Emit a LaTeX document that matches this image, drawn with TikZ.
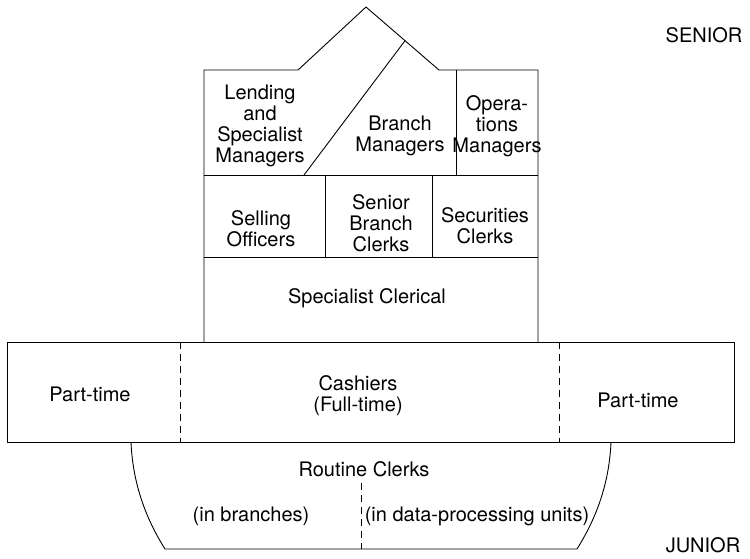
\documentclass[tikz,border=0pt]{standalone}
\usepackage{fontspec}
\setmainfont{TeX Gyre Heros}
\begin{document}
\begin{tikzpicture}[x=1pt,y=-1pt,
  outline/.style={line width=0.9pt, line join=miter},
  divider/.style={line width=0.6pt, dash pattern=on 7pt off 5pt},
  lbl/.style={inner sep=0pt, align=center, font=\fontsize{20}{21}\selectfont}]
\useasboundingbox (0,0) rectangle (750,558);

% senior block with its roof
\draw[outline] (204,342) -- (204,70) -- (298,70) -- (366,7) -- (439,70) -- (538,70) -- (538,342);
\draw[outline] (204,175) -- (538,175);
\draw[outline] (204,257) -- (538,257);
\draw[outline] (456,70) -- (456,175);
\draw[outline] (405,40.7) -- (304,175);
\draw[outline] (325,175) -- (325,257);
\draw[outline] (432,175) -- (432,257);

% cashiers band
\draw[outline] (7,342) rectangle (734,442);
\draw[divider] (180,342) -- (180,442);
\draw[divider] (559,342) -- (559,442);

% routine clerks hull
\draw[outline] (131,442) .. controls (133,490) and (150,525) .. (165,549)
  -- (577,549) .. controls (592,525) and (609,490) .. (611,442);
\draw[divider] (361,483) -- (361,549);

% labels
\node[lbl] (lend) at (260,126) {Lending\\and\\Specialist\\Managers};
\node[lbl] (bm) at (400,136) {Branch\\Managers};
\node[lbl] (ops) at (497,126) {Opera-\\tions\\Managers};
\node[lbl] (sell) at (261,229) {Selling\\Officers};
\node[lbl] (sbc) at (381,223) {Senior\\Branch\\Clerks};
\node[lbl] (sec) at (485,226) {Securities\\Clerks};
\node[lbl] (spc) at (367,298) {Specialist Clerical};
\node[lbl] (ptl) at (90,394) {Part-time};
\node[lbl] (cash) at (358,396) {Cashiers\\(Full-time)};
\node[lbl] (ptr) at (638,400) {Part-time};
\node[lbl] (rc) at (364,469) {Routine Clerks};
\node[lbl] (inb) at (251,516) {(in branches)};
\node[lbl] (indp) at (477,516) {(in data-processing units)};
\node[lbl] (sen) at (704,35) {SENIOR};
\node[lbl] (jun) at (703,545) {JUNIOR};
\end{tikzpicture}
\end{document}
